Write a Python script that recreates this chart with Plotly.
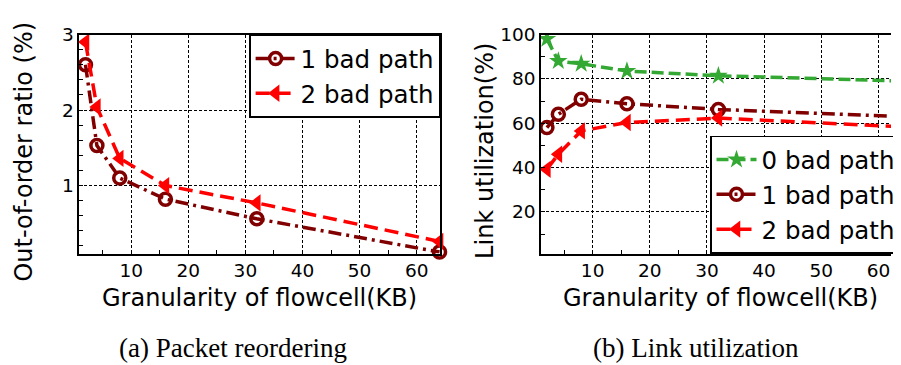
import plotly.graph_objects as go

# ---------------- data ----------------
flowcell_kb = [2, 4, 8, 16, 32, 64]

# (a) Packet reordering: out-of-order ratio (%)
reorder_1bad = [2.6, 1.53, 1.1, 0.82, 0.56, 0.12]
reorder_2bad = [2.9, 2.04, 1.36, 1.0, 0.77, 0.26]

# (b) Link utilization (%)
util_0bad = [98, 88, 86.8, 83.5, 81.4, 79.0]
util_1bad = [58, 64, 70.8, 68.8, 66.2, 63.0]
util_2bad = [39.2, 46, 56.5, 60.3, 62.3, 58.4]

series_names = ["0 bad path", "1 bad path", "2 bad path"]
captions = ["(a) Packet reordering", "(b) Link utilization"]
xtitle = "Granularity of flowcell(KB)"
ytitles = ["Out-of-order ratio (%)", "Link utilization(%)"]

# ---------------- styles ----------------
OFF = 8  # page body margin
W, H = 901 - OFF, 365 - OFF
MAROON = "#800000"
RED = "#ff0000"
GREEN = "#33a833"
FONT = "DejaVu Sans"
LW = 3.5

def px_x(p):
    return (p - OFF) / W

def px_y(p):
    return 1 - (p - OFF) / H

fig = go.Figure()

# left panel
fig.add_trace(go.Scatter(
    x=flowcell_kb, y=reorder_1bad, name=series_names[1], mode="lines+markers",
    line=dict(color=MAROON, width=LW, dash="13px,5px,3px,5px"),
    marker=dict(symbol="circle-open", size=12, color=MAROON, line=dict(width=3.5, color=MAROON)),
    xaxis="x", yaxis="y", legend="legend", cliponaxis=False))
fig.add_trace(go.Scatter(
    x=flowcell_kb, y=reorder_2bad, name=series_names[2], mode="lines+markers",
    line=dict(color=RED, width=LW, dash="14px,7px"),
    marker=dict(symbol="triangle-left", size=15, color=RED),
    xaxis="x", yaxis="y", legend="legend", cliponaxis=False))

# right panel
fig.add_trace(go.Scatter(
    x=flowcell_kb, y=util_0bad, name=series_names[0], mode="lines+markers",
    line=dict(color=GREEN, width=LW, dash="12px,5px"),
    marker=dict(symbol="star", size=14, color=GREEN),
    xaxis="x2", yaxis="y2", legend="legend2"))
fig.add_trace(go.Scatter(
    x=flowcell_kb, y=util_1bad, name=series_names[1], mode="lines+markers",
    line=dict(color=MAROON, width=LW, dash="13px,5px,3px,5px"),
    marker=dict(symbol="circle-open", size=12, color=MAROON, line=dict(width=3.5, color=MAROON)),
    xaxis="x2", yaxis="y2", legend="legend2"))
fig.add_trace(go.Scatter(
    x=flowcell_kb, y=util_2bad, name=series_names[2], mode="lines+markers",
    line=dict(color=RED, width=LW, dash="14px,7px"),
    marker=dict(symbol="triangle-left", size=15, color=RED),
    xaxis="x2", yaxis="y2", legend="legend2"))

ydom = [px_y(250), px_y(24)]
tickfont = dict(family=FONT, size=18.5, color="black")
common_x = dict(
    showline=True, linecolor="black", linewidth=1.5,
    showgrid=True, gridcolor="black", gridwidth=1, griddash="3px,2px",
    tickvals=[10, 20, 30, 40, 50, 60], ticks="inside", ticklen=4, tickcolor="black",
    tickfont=tickfont, zeroline=False,
    minor=dict(tickvals=[5, 15, 25, 35, 45, 55], ticks="inside", ticklen=4, tickcolor="black", showgrid=False),
)
common_y = dict(
    showline=True, linecolor="black", linewidth=1.5,
    showgrid=True, gridcolor="black", gridwidth=1, griddash="3px,2px",
    ticks="inside", ticklen=4, tickcolor="black", tickfont=tickfont, zeroline=False,
)

fig.update_layout(
    width=W, height=H,
    margin=dict(l=0, r=0, t=0, b=0),
    paper_bgcolor="white", plot_bgcolor="white",
    font=dict(family=FONT, color="black"),
    xaxis=dict(domain=[px_x(80), px_x(445)], range=[0.9, 64.1], anchor="y", mirror=True, **common_x),
    yaxis=dict(domain=ydom, range=[0.1, 3], anchor="x", mirror=True,
               tickvals=[1, 2, 3],
               minor=dict(tickvals=[0.2, 0.4, 0.6, 0.8, 1.2, 1.4, 1.6, 1.8, 2.2, 2.4, 2.6, 2.8],
                          ticks="inside", ticklen=4, tickcolor="black", showgrid=False),
               **common_y),
    xaxis2=dict(domain=[px_x(547), 1], range=[0.96, 62.2], anchor="y2", mirror=True, **common_x),
    yaxis2=dict(domain=ydom, range=[1.2, 100], anchor="x2", mirror=False,
                tickvals=[20, 40, 60, 80, 100],
                minor=dict(tickvals=[10, 30, 50, 70, 90], ticks="inside", ticklen=4,
                           tickcolor="black", showgrid=False),
                **common_y),
    legend=dict(x=px_x(445), y=px_y(24), xanchor="right", yanchor="top",
                bgcolor="white", bordercolor="black", borderwidth=1.5,
                font=dict(family=FONT, size=24.5, color="black"), itemwidth=40,
                tracegroupgap=0),
    legend2=dict(x=px_x(718), y=px_y(250), xanchor="left", yanchor="bottom",
                 bgcolor="white", bordercolor="black", borderwidth=1.5,
                 font=dict(family=FONT, size=24.5, color="black"), itemwidth=40,
                 tracegroupgap=0),
    showlegend=True,
)

ann_font = dict(family=FONT, size=24, color="black")
cap_font = dict(family="Liberation Serif", size=27, color="black")
annotations = [
    dict(text=xtitle, x=px_x(262.5), y=px_y(296), xref="paper", yref="paper",
         showarrow=False, font=ann_font, xanchor="center", yanchor="middle"),
    dict(text=xtitle, x=px_x(729), y=px_y(296), xref="paper", yref="paper",
         showarrow=False, font=ann_font, xanchor="center", yanchor="middle"),
    dict(text=ytitles[0], x=px_x(24), y=px_y(145), xref="paper", yref="paper",
         showarrow=False, font=ann_font, textangle=-90, xanchor="center", yanchor="middle"),
    dict(text=ytitles[1], x=px_x(491), y=px_y(144.5), xref="paper", yref="paper",
         showarrow=False, font=ann_font, textangle=-90, xanchor="center", yanchor="middle"),
    dict(text=captions[0], x=px_x(235.5), y=px_y(347), xref="paper", yref="paper",
         showarrow=False, font=cap_font, xanchor="center", yanchor="middle"),
    dict(text=captions[1], x=px_x(703.5), y=px_y(347), xref="paper", yref="paper",
         showarrow=False, font=cap_font, xanchor="center", yanchor="middle"),
]
fig.update_layout(annotations=annotations)

fig.write_html("out.html")
